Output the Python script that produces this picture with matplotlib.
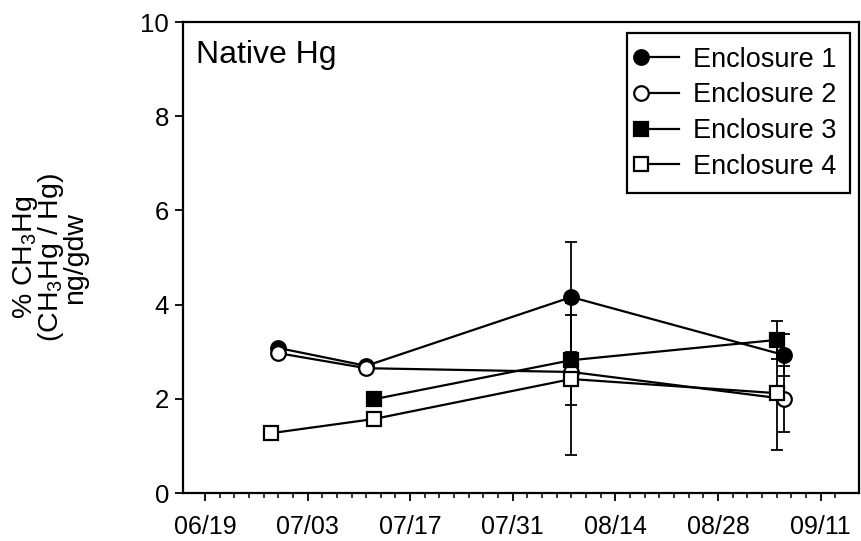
import numpy as np
import pandas as pd
import matplotlib
matplotlib.use("Agg")
import matplotlib.pyplot as plt
import matplotlib.dates as mdates
from matplotlib.legend_handler import HandlerLine2DCompound

plt.rcParams["font.family"] = ["Liberation Sans", "DejaVu Sans"]
plt.rcParams["mathtext.default"] = "regular"

# Data (% CH3Hg, Native Hg)
e1_dates = ["2000-06-29", "2000-07-11", "2000-08-08", "2000-09-06"]
e1_vals = [3.08, 2.70, 4.16, 2.93]
e1_err = [0, 0, 1.17, 0.45]

e2_dates = ["2000-06-29", "2000-07-11", "2000-08-08", "2000-09-06"]
e2_vals = [2.97, 2.65, 2.57, 2.00]
e2_err = [0, 0, 0.30, 0.70]

e3_dates = ["2000-07-12", "2000-08-08", "2000-09-05"]
e3_vals = [1.99, 2.82, 3.25]
e3_err = [0, 0.95, 0.40]

e4_dates = ["2000-06-28", "2000-07-12", "2000-08-08", "2000-09-05"]
e4_vals = [1.27, 1.57, 2.42, 2.12]
e4_err = [0, 0, 1.62, 1.21]

tick_dates = ["2000-06-19", "2000-07-03", "2000-07-17", "2000-07-31",
              "2000-08-14", "2000-08-28", "2000-09-11"]
x_range = ["2000-06-16", "2000-09-16 06:00"]


class LeftMarkerHandler(HandlerLine2DCompound):
    # marker at the left end of the legend line, like the original
    def get_xdata(self, legend, xdescent, ydescent, width, height, fontsize):
        xdata = np.array([-xdescent, -xdescent + width])
        return xdata, np.array([-xdescent + 0.03 * width])


fig = plt.figure(figsize=(8.61, 5.41), dpi=100)
ax = fig.add_axes([0.2125, 0.0887, 0.7852, 0.8706])

series = [
    ("Enclosure 1", e1_dates, e1_vals, e1_err, "o", "black", 10.5),
    ("Enclosure 2", e2_dates, e2_vals, e2_err, "o", "white", 10.5),
    ("Enclosure 3", e3_dates, e3_vals, e3_err, "s", "black", 9.5),
    ("Enclosure 4", e4_dates, e4_vals, e4_err, "s", "white", 9.5),
]

handles = []
for name, d, v, e, mk, fc, ms in series:
    x = pd.to_datetime(d)
    ax.errorbar(x, v, yerr=e, fmt="none", ecolor="black",
                elinewidth=1.3, capsize=4, capthick=1.3, zorder=2)
    (ln,) = ax.plot(x, v, color="black", lw=1.6, marker=mk, ms=ms,
                    mfc=fc, mec="black", mew=1.6, label=name, zorder=3)
    handles.append(ln)

ax.set_xlim(pd.to_datetime(x_range[0]), pd.to_datetime(x_range[1]))
ax.set_ylim(0, 10)
ax.set_yticks([0, 2, 4, 6, 8, 10])

major = mdates.date2num(pd.to_datetime(tick_dates))
ax.xaxis.set_major_locator(plt.FixedLocator(major))
ax.xaxis.set_minor_locator(plt.FixedLocator(np.arange(major[0], major[-1] + 4, 2)))
ax.xaxis.set_major_formatter(mdates.DateFormatter("%m/%d"))

ax.tick_params(axis="both", which="major", direction="out", length=6,
               width=1.3, labelsize=18.5, color="black")
ax.tick_params(axis="x", which="minor", direction="out", length=3.5, width=1.1)
ax.tick_params(axis="x", which="major", pad=9.5, labelsize=18)
ax.tick_params(axis="y", which="major", pad=4)

for s in ax.spines.values():
    s.set_linewidth(1.6)
    s.set_color("black")

ax.set_ylabel("% CH$_3$Hg\n(CH$_3$Hg / Hg)\nng/gdw", fontsize=20.5,
              linespacing=0.8)
ax.yaxis.set_label_coords(-0.141, 0.5)

ax.text(0.02, 0.962, "Native Hg", transform=ax.transAxes, fontsize=23,
        va="top", ha="left")

leg = ax.legend(handles=handles, loc="upper right",
                bbox_to_anchor=(0.9867, 0.9766), borderaxespad=0,
                fontsize=19.5, frameon=True, fancybox=False,
                edgecolor="black", framealpha=1, handlelength=1.45,
                handletextpad=0.5, labelspacing=0.36, borderpad=0.5,
                numpoints=1,
                handler_map={plt.Line2D: LeftMarkerHandler()})
leg.get_frame().set_linewidth(1.6)

fig.savefig("out.png", dpi=100)
